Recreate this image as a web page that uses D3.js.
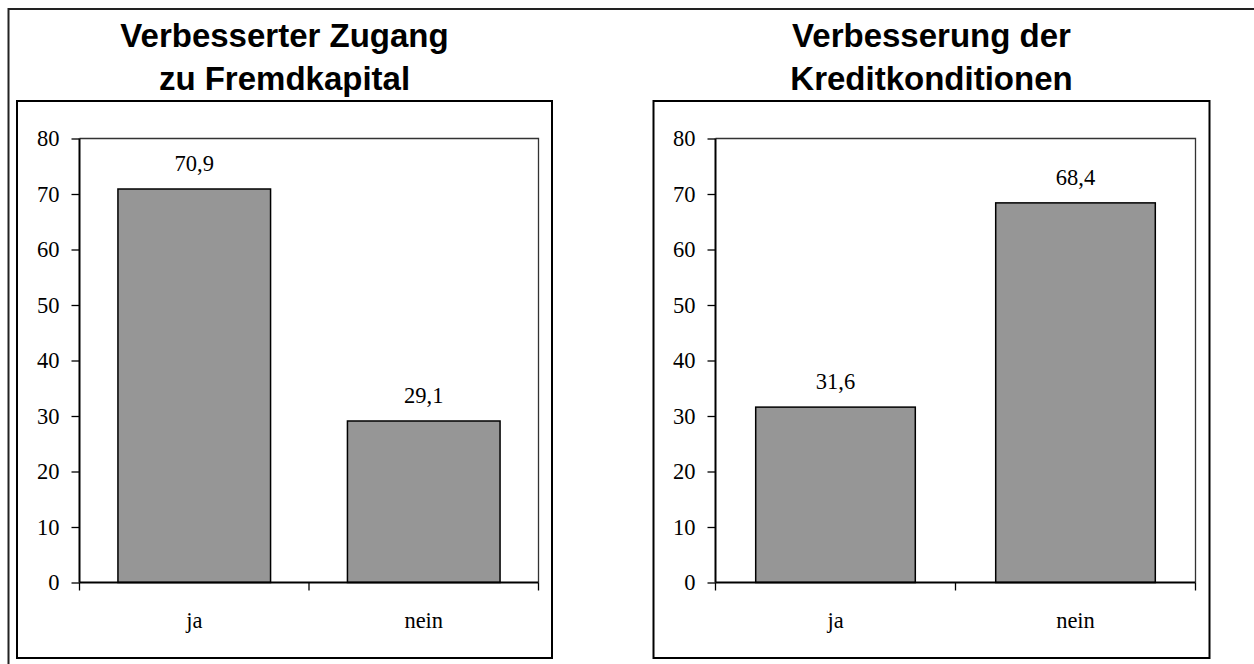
<!DOCTYPE html>
<html>
<head>
<meta charset="utf-8">
<script src="https://cdn.jsdelivr.net/npm/d3@7"></script>
<style>
  html, body { margin: 0; padding: 0; background: #fff; }
  svg { display: block; }
  svg text.serif { font-family: "Liberation Serif", "Times New Roman", serif; font-size: 22.5px; }
  svg text.sansb { font-family: "Liberation Sans", Arial, sans-serif; font-weight: bold; font-size: 33px; }
</style>
</head>
<body>
<svg id="chart" width="1254" height="664"></svg>
<script>
// ---- data ----
const categories = ["ja", "nein"];
const titlesLeft = ["Verbesserter Zugang", "zu Fremdkapital"];
const titlesRight = ["Verbesserung der", "Kreditkonditionen"];
const valuesLeft = [70.9, 29.1];
const valuesRight = [31.6, 68.4];
const yTicks = [0, 10, 20, 30, 40, 50, 60, 70, 80];
const yMax = 80;

const svg = d3.select("#chart");

// outer frame (extends beyond the visible page on right and bottom)
svg.append("path")
  .attr("d", "M8.5,670 L8.5,9 L1260,9")
  .attr("fill", "none").attr("stroke", "#222").attr("stroke-width", 2);

const panels = [
  { titles: titlesLeft, values: valuesLeft,
    box: [17, 101, 552, 658], plot: [79.5, 138.5, 538.5, 582.5] },
  { titles: titlesRight, values: valuesRight,
    box: [653.5, 101, 1209.5, 658], plot: [715.5, 138.5, 1195.5, 582.5] }
];

const fmt = v => d3.format(".1f")(v).replace(".", ",");

panels.forEach(p => {
  const [bx0, by0, bx1, by1] = p.box;
  const [px0, py0, px1, py1] = p.plot;
  const g = svg.append("g");

  // panel box
  g.append("rect")
    .attr("x", bx0).attr("y", by0)
    .attr("width", bx1 - bx0).attr("height", by1 - by0)
    .attr("fill", "#fff").attr("stroke", "#000").attr("stroke-width", 2);

  // title
  const cx = (bx0 + bx1) / 2;
  p.titles.forEach((t, i) => {
    g.append("text")
      .attr("class", "sansb")
      .attr("x", cx).attr("y", 47 + i * 43)
      .attr("text-anchor", "middle")
      .attr("fill", "#000")
      .text(t);
  });

  const x = d3.scaleBand().domain(categories).range([px0, px1])
    .paddingInner(0.335).paddingOuter(0.335 / 2);
  const y = d3.scaleLinear().domain([0, yMax]).range([py1, py0]);

  // plot frame top and right
  g.append("path")
    .attr("d", `M${px0},${py0} L${px1},${py0} L${px1},${py1}`)
    .attr("fill", "none").attr("stroke", "#333").attr("stroke-width", 1.3);

  // bars
  g.selectAll("rect.bar").data(p.values).join("rect")
    .attr("class", "bar")
    .attr("x", (d, i) => x(categories[i]))
    .attr("y", d => y(d))
    .attr("width", x.bandwidth())
    .attr("height", d => y(0) - y(d))
    .attr("fill", "#969696")
    .attr("stroke", "#000")
    .attr("stroke-width", 1.5);

  // value labels
  g.selectAll("text.val").data(p.values).join("text")
    .attr("class", "val serif")
    .attr("x", (d, i) => x(categories[i]) + x.bandwidth() / 2)
    .attr("y", d => y(d) - 18)
    .attr("text-anchor", "middle")
    .text(d => fmt(d));

  // y axis
  const yAxis = d3.axisLeft(y).tickValues(yTicks).tickSize(8).tickPadding(12)
    .tickFormat(d3.format("d"));
  const ya = g.append("g").attr("transform", `translate(${px0},0)`).call(yAxis);
  ya.attr("font-family", null).attr("font-size", null);
  ya.select(".domain").attr("stroke", "#000").attr("stroke-width", 2).attr("d", `M0,${py0}V${py1}`);
  ya.selectAll(".tick line").attr("stroke", "#000").attr("stroke-width", 1.3);
  ya.selectAll(".tick text").attr("class", "serif").attr("fill", "#000");

  // x axis: baseline plus category-boundary ticks
  g.append("line")
    .attr("x1", px0).attr("x2", px1).attr("y1", py1).attr("y2", py1)
    .attr("stroke", "#000").attr("stroke-width", 2);
  const bounds = [px0, (px0 + px1) / 2, px1];
  g.selectAll("line.xt").data(bounds).join("line")
    .attr("class", "xt")
    .attr("x1", d => d).attr("x2", d => d)
    .attr("y1", py1).attr("y2", py1 + 8)
    .attr("stroke", "#000").attr("stroke-width", 1.3);

  // category labels
  g.selectAll("text.cat").data(categories).join("text")
    .attr("class", "cat serif")
    .attr("x", d => x(d) + x.bandwidth() / 2)
    .attr("y", 628)
    .attr("text-anchor", "middle")
    .text(d => d);
});
</script>
</body>
</html>
